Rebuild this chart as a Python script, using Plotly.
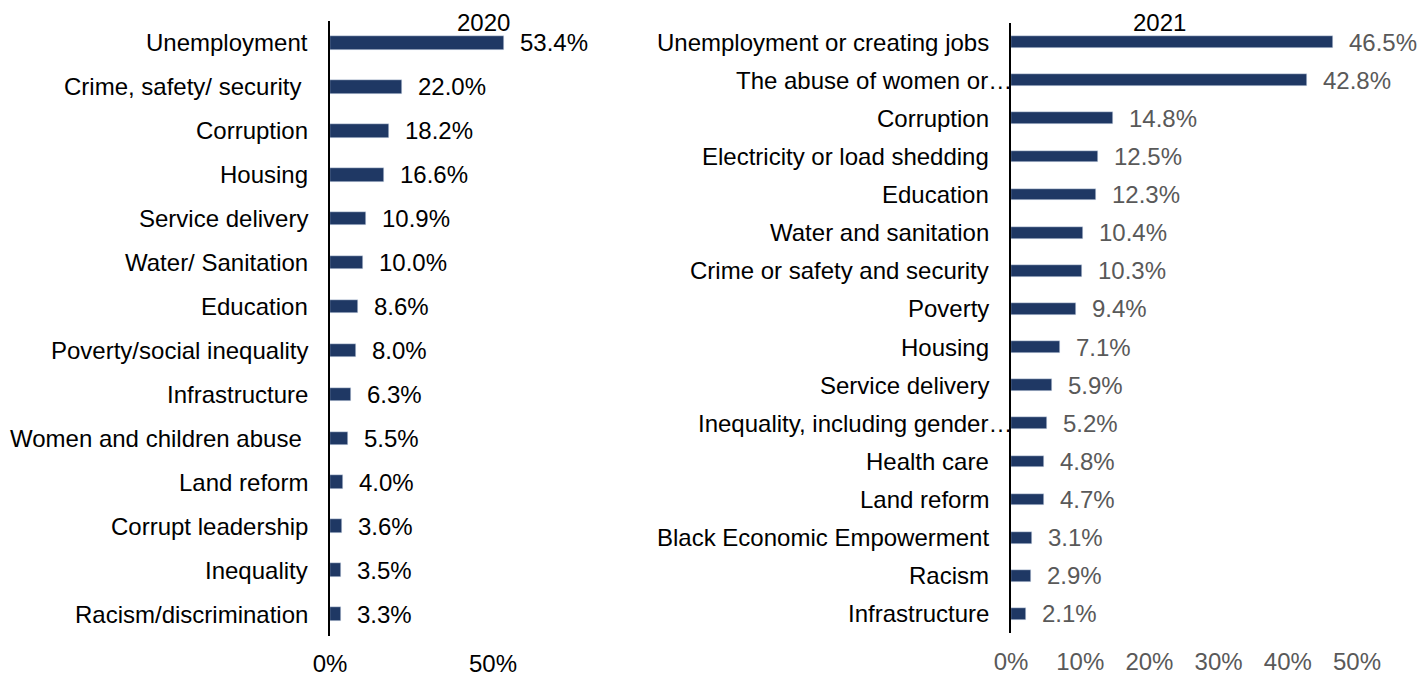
import plotly.graph_objects as go

# 2020 survey: most important problems facing the country
cats_2020 = [
    "Unemployment", "Crime, safety/ security ", "Corruption", "Housing",
    "Service delivery", "Water/ Sanitation", "Education",
    "Poverty/social inequality", "Infrastructure", "Women and children abuse ",
    "Land reform", "Corrupt leadership", "Inequality", "Racism/discrimination",
]
vals_2020 = [53.4, 22.0, 18.2, 16.6, 10.9, 10.0, 8.6, 8.0, 6.3, 5.5, 4.0, 3.6, 3.5, 3.3]

# 2021 survey
cats_2021 = [
    "Unemployment or creating jobs", "The abuse of women or…", "Corruption",
    "Electricity or load shedding", "Education", "Water and sanitation",
    "Crime or safety and security", "Poverty", "Housing", "Service delivery",
    "Inequality, including gender…", "Health care", "Land reform",
    "Black Economic Empowerment", "Racism", "Infrastructure",
]
vals_2021 = [46.5, 42.8, 14.8, 12.5, 12.3, 10.4, 10.3, 9.4, 7.1, 5.9, 5.2, 4.8, 4.7, 3.1, 2.9, 2.1]

ticks_2020 = [0, 50]
ticks_2021 = [0, 10, 20, 30, 40, 50]

W, H = 1420, 676
BAR = "#1f3864"
GREY = "#595959"
FONT = "Liberation Sans, Arial, sans-serif"
FS = 24


def px_dom_x(left, right):
    return [left / W, right / W]


def px_dom_y(top, bottom):
    return [(H - bottom) / H, (H - top) / H]


fig = go.Figure()

fig.add_trace(go.Bar(
    x=vals_2020, y=cats_2020, orientation="h", marker_color=BAR,
    width=0.31, xaxis="x", yaxis="y", showlegend=False, hoverinfo="skip",
))
fig.add_trace(go.Bar(
    x=vals_2021, y=cats_2021, orientation="h", marker_color=BAR,
    width=0.31, xaxis="x2", yaxis="y2", showlegend=False, hoverinfo="skip",
))

annotations = []

# category labels, right-aligned against the axis line
for cats, xref, yref in [(cats_2020, "x", "y"), (cats_2021, "x2", "y2")]:
    for c in cats:
        truncated = c.endswith("…")
        annotations.append(dict(
            x=0, y=c, xref=xref, yref=yref, text=c.replace(" ", "\u00a0"),
            xanchor="right", yanchor="middle", showarrow=False,
            xshift=3 if truncated else -20,
            font=dict(family=FONT, size=FS, color="#000000"),
        ))

# value labels at the end of each bar
for cats, vals, xref, yref, col in [
    (cats_2020, vals_2020, "x", "y", "#000000"),
    (cats_2021, vals_2021, "x2", "y2", GREY),
]:
    for c, v in zip(cats, vals):
        annotations.append(dict(
            x=v, y=c, xref=xref, yref=yref, text=f"{v:.1f}%",
            xanchor="left", yanchor="middle", showarrow=False, xshift=14,
            font=dict(family=FONT, size=FS, color=col),
        ))

# panel titles
annotations.append(dict(x=483 / W, y=1 - 22 / H, xref="paper", yref="paper",
                        text="2020", showarrow=False, xanchor="center", yanchor="middle",
                        font=dict(family=FONT, size=FS, color="#000000")))
annotations.append(dict(x=1159 / W, y=1 - 22 / H, xref="paper", yref="paper",
                        text="2021", showarrow=False, xanchor="center", yanchor="middle",
                        font=dict(family=FONT, size=FS, color="#000000")))

fig.update_layout(
    width=W, height=H,
    margin=dict(l=0, r=0, t=0, b=0, autoexpand=False),
    paper_bgcolor="white", plot_bgcolor="white",
    font=dict(family=FONT, size=FS, color="#000000"),
    bargap=0,
    xaxis=dict(
        domain=px_dom_x(330, 330 + 60 * 163 / 50), range=[0, 60],
        tickvals=ticks_2020, ticktext=[f"{t}%" for t in ticks_2020],
        showgrid=False, zeroline=False, showline=False, ticks="",
        ticklabelstandoff=11, tickfont=dict(family=FONT, size=FS, color="#000000"),
        anchor="y", automargin=False,
    ),
    yaxis=dict(
        domain=px_dom_y(21, 636), range=[len(cats_2020) - 0.5, -0.5],
        categoryorder="array", categoryarray=cats_2020,
        showticklabels=False, showgrid=False, zeroline=False,
        showline=True, linecolor="#000000", linewidth=1.5, ticks="",
        anchor="x", automargin=False,
    ),
    xaxis2=dict(
        domain=px_dom_x(1011, 1011 + 55 * 346 / 50), range=[0, 55],
        tickvals=ticks_2021, ticktext=[f"{t}%" for t in ticks_2021],
        showgrid=False, zeroline=False, showline=False, ticks="",
        ticklabelstandoff=12, tickfont=dict(family=FONT, size=FS, color=GREY),
        anchor="y2", automargin=False,
    ),
    yaxis2=dict(
        domain=px_dom_y(23, 633), range=[len(cats_2021) - 0.5, -0.5],
        categoryorder="array", categoryarray=cats_2021,
        showticklabels=False, showgrid=False, zeroline=False,
        showline=True, linecolor="#000000", linewidth=1.5, ticks="",
        anchor="x2", automargin=False,
    ),
    annotations=annotations,
)

fig.write_html("out.html")
